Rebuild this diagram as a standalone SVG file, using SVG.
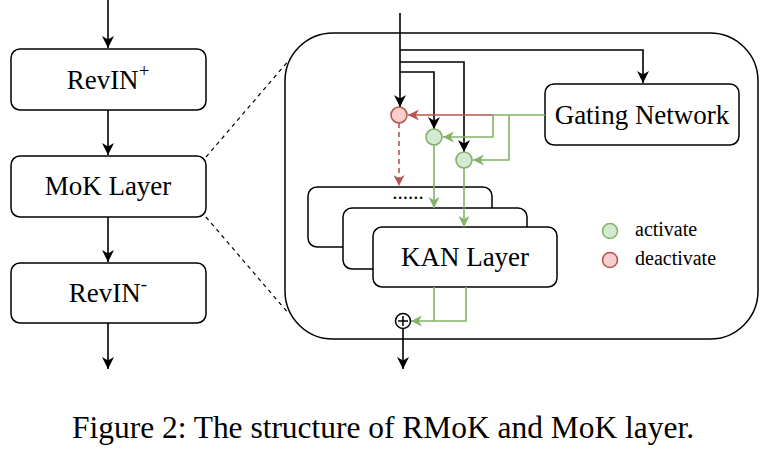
<svg xmlns="http://www.w3.org/2000/svg" width="766" height="452" viewBox="0 0 766 452">
<style>
.box{fill:#fff;stroke:#000;stroke-width:1.5}
.t{font-family:"Liberation Serif","Times New Roman",serif;fill:#000}
.blk{fill:none;stroke:#000;stroke-width:1.6}
.grn{fill:none;stroke:#82b366;stroke-width:1.6}
.red{fill:none;stroke:#b85450;stroke-width:1.6}
.gc{fill:#d5e8d4;stroke:#82b366;stroke-width:1.6}
.rc{fill:#f8cecc;stroke:#b85450;stroke-width:1.6}
.dash{fill:none;stroke:#000;stroke-width:1.2;stroke-dasharray:4,4}
</style>
<defs>
<marker id="ab" viewBox="0 0 10 10" refX="10" refY="5" markerWidth="13" markerHeight="12" orient="auto" markerUnits="userSpaceOnUse"><path d="M0,0 L10,5 L0,10 L3,5 z" fill="#000"/></marker>
<marker id="ag" viewBox="0 0 10 10" refX="10" refY="5" markerWidth="12" markerHeight="11" orient="auto" markerUnits="userSpaceOnUse"><path d="M0,0 L10,5 L0,10 L3,5 z" fill="#82b366"/></marker>
<marker id="ar" viewBox="0 0 10 10" refX="10" refY="5" markerWidth="12" markerHeight="11" orient="auto" markerUnits="userSpaceOnUse"><path d="M0,0 L10,5 L0,10 L3,5 z" fill="#b85450"/></marker>
</defs>

<g id="container"><rect x="285" y="33" width="473" height="306" rx="48" fill="#fff" stroke="#000" stroke-width="1.5"/></g>

<g id="revin-plus"><rect class="box" x="11" y="49" width="195" height="61" rx="9"/><text class="t" x="108" y="89" font-size="27" text-anchor="middle">RevIN<tspan font-size="19" dy="-12">+</tspan></text></g>
<g id="mok-layer"><rect class="box" x="11" y="156" width="195" height="61" rx="9"/><text class="t" x="108" y="195" font-size="27" text-anchor="middle">MoK Layer</text></g>
<g id="revin-minus"><rect class="box" x="11" y="263" width="195" height="60" rx="9"/><text class="t" x="108" y="302" font-size="27" text-anchor="middle">RevIN<tspan font-size="19" dy="-12">-</tspan></text></g>

<g id="gating-network"><rect class="box" x="545" y="84" width="194" height="61" rx="9"/><text class="t" x="642" y="124" font-size="27" text-anchor="middle">Gating Network</text></g>

<g id="kan-back"><rect class="box" x="308" y="187" width="184" height="60" rx="9"/><text class="t" x="408" y="199" font-size="21" text-anchor="middle">......</text></g>
<g id="kan-middle"><rect class="box" x="343" y="208" width="184" height="61" rx="9"/></g>
<g id="kan-layer"><rect class="box" x="373" y="227" width="184" height="60" rx="9"/><text class="t" x="465" y="266" font-size="27" text-anchor="middle">KAN Layer</text></g>

<g id="connectors">
<line class="blk" x1="108" y1="0" x2="108" y2="48" marker-end="url(#ab)"/>
<line class="blk" x1="108" y1="110" x2="108" y2="155" marker-end="url(#ab)"/>
<line class="blk" x1="108" y1="217" x2="108" y2="262" marker-end="url(#ab)"/>
<line class="blk" x1="108" y1="323" x2="108" y2="369" marker-end="url(#ab)"/>
<line class="dash" x1="206" y1="157" x2="290" y2="59"/>
<line class="dash" x1="206" y1="217" x2="289" y2="314"/>

<line class="blk" x1="400" y1="13" x2="400" y2="107" marker-end="url(#ab)"/>
<path class="blk" d="M400,50 H643 V83" marker-end="url(#ab)"/>
<path class="blk" d="M400,62 H464 V152" marker-end="url(#ab)"/>
<path class="blk" d="M400,72 H434 V129" marker-end="url(#ab)"/>

<line class="red" x1="493" y1="115" x2="408" y2="115" marker-end="url(#ar)"/>
<line class="red" x1="399" y1="123" x2="399" y2="186" stroke-dasharray="5,4" marker-end="url(#ar)"/>
<line class="grn" x1="545" y1="115" x2="493" y2="115"/>
<path class="grn" d="M493,115 V137 H443" marker-end="url(#ag)"/>
<path class="grn" d="M509,115 V160 H473" marker-end="url(#ag)"/>
<line class="grn" x1="434" y1="145" x2="434" y2="208" marker-end="url(#ag)"/>
<line class="grn" x1="464" y1="168" x2="464" y2="227" marker-end="url(#ag)"/>

<line class="grn" x1="434" y1="287" x2="434" y2="321"/>
<path class="grn" d="M466,287 V321 H411" marker-end="url(#ag)"/>
<line class="blk" x1="403" y1="328" x2="403" y2="369" marker-end="url(#ab)"/>
</g>

<g id="gate-red"><circle class="rc" cx="399" cy="115" r="8"/></g>
<g id="gate-green-1"><circle class="gc" cx="434" cy="137" r="8"/></g>
<g id="gate-green-2"><circle class="gc" cx="464" cy="160" r="8"/></g>
<g id="sum"><circle cx="403" cy="321" r="7.5" fill="#fff" stroke="#000" stroke-width="1.5"/><path d="M398,321 H408 M403,316 V326" stroke="#000" stroke-width="1.5"/></g>

<g id="legend">
<circle class="gc" cx="610" cy="231" r="7.5"/><text class="t" x="635" y="236" font-size="20">activate</text>
<circle class="rc" cx="610" cy="260" r="7.5"/><text class="t" x="635" y="265" font-size="20">deactivate</text>
</g>

<text class="t" x="72" y="438" font-size="31" textLength="622" lengthAdjust="spacingAndGlyphs">Figure 2: The structure of RMoK and MoK layer.</text>
</svg>
